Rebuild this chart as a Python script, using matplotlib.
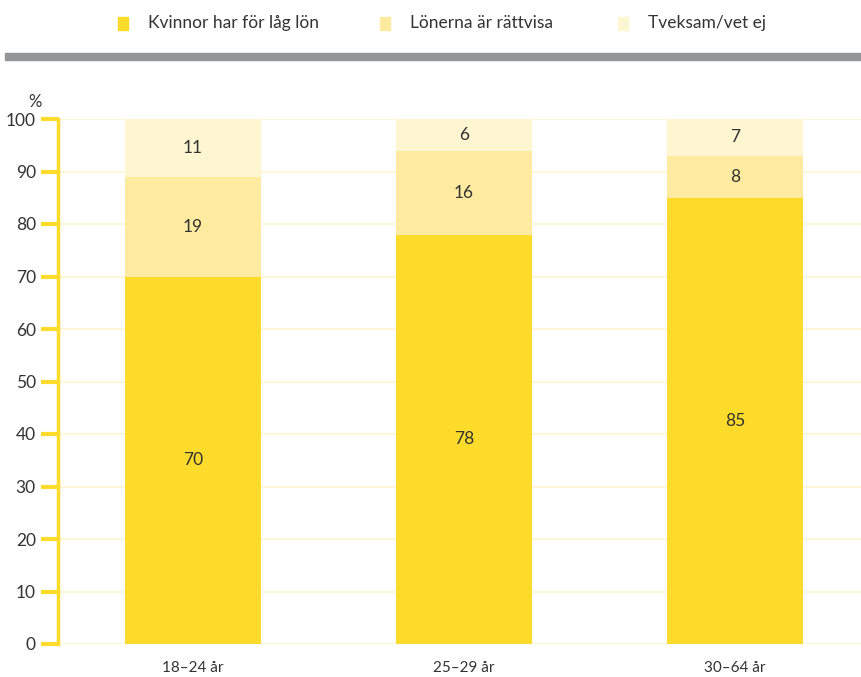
import matplotlib.pyplot as plt
from matplotlib.patches import Rectangle

plt.rcParams['font.family'] = ['Lato', 'DejaVu Sans']

groups = ["18–24 år", "25–29 år", "30–64 år"]
low_pay = [70, 78, 85]
fair_pay = [19, 16, 8]
unsure = [11, 6, 7]
series_names = ["Kvinnor har för låg lön", "Lönerna är rättvisa", "Tveksam/vet ej"]
yticks = list(range(0, 101, 10))

colors = ["#fddb2b", "#feeb9f", "#fef6d1"]
text_color = "#333333"

fig = plt.figure(figsize=(8.61, 6.77), dpi=100)
ax = fig.add_axes([58 / 861, 1 - 644 / 677, 1 - 58 / 861, 525 / 677])

x = list(range(len(groups)))
bottoms = [0] * len(groups)
for vals, col in zip([low_pay, fair_pay, unsure], colors):
    bars = ax.bar(x, vals, width=0.5, bottom=bottoms, color=col, zorder=2)
    for b, v, bot in zip(bars, vals, bottoms):
        ax.text(b.get_x() + b.get_width() / 2, bot + v / 2, str(v),
                ha="center", va="center", fontsize=12.5, color=text_color, zorder=3)
    bottoms = [a + b for a, b in zip(bottoms, vals)]

ax.set_xlim(-0.498, 2.465)
ax.set_ylim(0, 100)
ax.set_yticks(yticks)
ax.set_xticks(x)
ax.set_xticklabels(groups, fontsize=11, color=text_color)
ax.tick_params(axis="x", length=0, pad=12)
ax.tick_params(axis="y", length=12, width=3, color=colors[0], labelsize=12.5,
               labelcolor=text_color, pad=4)
for yv in yticks:
    ax.axhline(yv, color="#fef6d8", lw=1.5, zorder=1)

for s in ["top", "right", "bottom"]:
    ax.spines[s].set_visible(False)
ax.spines["left"].set_color(colors[0])
ax.spines["left"].set_linewidth(2.5)

fig.text(35 / 861, 1 - 102 / 677, "%", ha="center", va="center",
         fontsize=12, color=text_color)

# gray divider under the legend
fig.patches.append(Rectangle((5 / 861, 1 - 60 / 677), 856 / 861, 7 / 677,
                             transform=fig.transFigure, color="#939598"))

# legend row
for name, col, sx in zip(series_names, colors, [118, 380, 618]):
    fig.patches.append(Rectangle((sx / 861, 1 - 30 / 677), 10 / 861, 13 / 677,
                                 transform=fig.transFigure, color=col))
    fig.text((sx + 30) / 861, 1 - 23 / 677, name, ha="left", va="center",
             fontsize=12.5, color=text_color)

fig.savefig("out.png", dpi=100)
